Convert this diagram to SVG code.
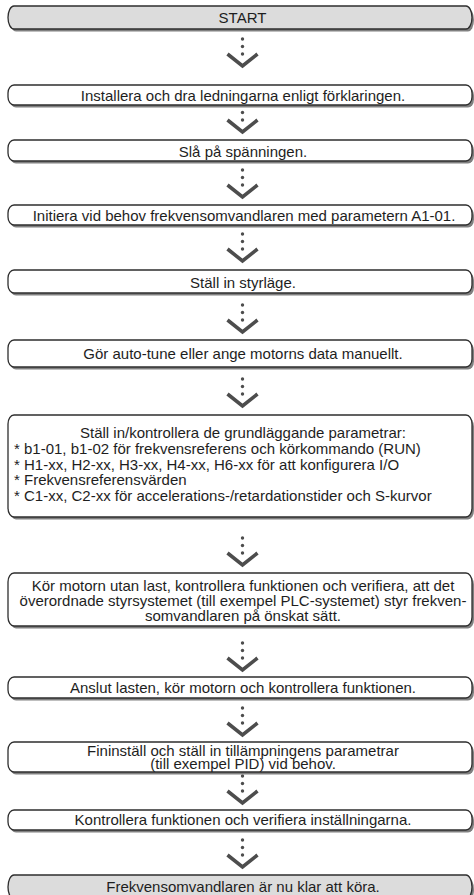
<svg xmlns="http://www.w3.org/2000/svg" width="474" height="895" viewBox="0 0 474 895">
<defs>
<style>
.bx{fill:#ffffff;stroke:#2e2e2e;stroke-width:1.3}
.gr{fill:#dcdcdc;stroke:#2e2e2e;stroke-width:1.3}
.sh{fill:#808080;stroke:none}
.t{font-family:"Liberation Sans",Arial,sans-serif;font-size:15px;fill:#1e1e1e}
.c{text-anchor:middle}
.v{fill:none;stroke:#4d4d4d;stroke-width:3.6;stroke-linejoin:miter;stroke-linecap:butt}
.d{fill:#4d4d4d}
</style>
<g id="chev">
<circle class="d" cx="0" cy="-28" r="1.7"/>
<circle class="d" cx="0" cy="-20.5" r="1.7"/>
<circle class="d" cx="0" cy="-13" r="1.7"/>
<polyline class="v" points="-15,-13 0,-1 15,-13"/>
</g>
</defs>
<rect width="474" height="895" fill="#ffffff"/>
<g id="connectors">
<use href="#chev" x="242.5" y="67"/>
<use href="#chev" x="242.5" y="133"/>
<use href="#chev" x="242.5" y="198"/>
<use href="#chev" x="242.5" y="262"/>
<use href="#chev" x="242.5" y="333"/>
<use href="#chev" x="242.5" y="407"/>
<use href="#chev" x="242.5" y="566"/>
<use href="#chev" x="242.5" y="671"/>
<use href="#chev" x="242.5" y="736"/>
<use href="#chev" x="242.5" y="804"/>
<use href="#chev" x="242.5" y="868"/>
</g>
<g id="start">
<rect class="sh" x="10" y="8.5" width="464" height="23" rx="6" ry="11.5"/>
<rect class="gr" x="8" y="6" width="464" height="23" rx="6" ry="11.5"/>
<text class="t c" x="242.5" y="22.5">START</text>
</g>
<g id="n1">
<rect class="sh" x="10" y="87.5" width="464" height="20" rx="6" ry="8"/>
<rect class="bx" x="8" y="85" width="464" height="20" rx="6" ry="8"/>
<text class="t c" x="243" y="101">Installera och dra ledningarna enligt förklaringen.</text>
</g>
<g id="n2">
<rect class="sh" x="10" y="142.5" width="464" height="21" rx="6" ry="8"/>
<rect class="bx" x="8" y="140" width="464" height="21" rx="6" ry="8"/>
<text class="t c" x="243" y="156.5">Slå på spänningen.</text>
</g>
<g id="n3">
<rect class="sh" x="10" y="207.5" width="464" height="20" rx="6" ry="8"/>
<rect class="bx" x="8" y="205" width="464" height="20" rx="6" ry="8"/>
<text class="t c" x="244" y="220.5">Initiera vid behov frekvensomvandlaren med parametern A1-01.</text>
</g>
<g id="n4">
<rect class="sh" x="10" y="272.5" width="464" height="23" rx="6" ry="8"/>
<rect class="bx" x="8" y="270" width="464" height="23" rx="6" ry="8"/>
<text class="t c" x="243" y="288">Ställ in styrläge.</text>
</g>
<g id="n5">
<rect class="sh" x="10" y="342.5" width="464" height="27" rx="6" ry="8"/>
<rect class="bx" x="8" y="340" width="464" height="27" rx="6" ry="8"/>
<text class="t c" x="243" y="359">Gör auto-tune eller ange motorns data manuellt.</text>
</g>
<g id="n6">
<rect class="sh" x="10" y="417.5" width="464" height="102" rx="6" ry="9"/>
<rect class="bx" x="8" y="415" width="464" height="102" rx="6" ry="9"/>
<text class="t c" x="243" y="438">Ställ in/kontrollera de grundläggande parametrar:</text>
<text class="t" x="14" y="454">* b1-01, b1-02 för frekvensreferens och körkommando (RUN)</text>
<text class="t" x="14" y="470">* H1-xx, H2-xx, H3-xx, H4-xx, H6-xx för att konfigurera I/O</text>
<text class="t" x="14" y="485">* Frekvensreferensvärden</text>
<text class="t" x="14" y="501">* C1-xx, C2-xx för accelerations-/retardationstider och S-kurvor</text>
</g>
<g id="n7">
<rect class="sh" x="10" y="575.5" width="464" height="53" rx="6" ry="9"/>
<rect class="bx" x="8" y="573" width="464" height="53" rx="6" ry="9"/>
<text class="t c" x="243" y="591">Kör motorn utan last, kontrollera funktionen och verifiera, att det</text>
<text class="t c" x="243" y="606">överordnade styrsystemet (till exempel PLC-systemet) styr frekven-</text>
<text class="t c" x="243" y="621">somvandlaren på önskat sätt.</text>
</g>
<g id="n8">
<rect class="sh" x="10" y="679.5" width="464" height="21" rx="6" ry="8"/>
<rect class="bx" x="8" y="677" width="464" height="21" rx="6" ry="8"/>
<text class="t c" x="243" y="693">Anslut lasten, kör motorn och kontrollera funktionen.</text>
</g>
<g id="n9">
<rect class="sh" x="10" y="744.5" width="464" height="30" rx="6" ry="8"/>
<rect class="bx" x="8" y="742" width="464" height="30" rx="6" ry="8"/>
<text class="t c" x="243" y="756">Fininställ och ställ in tillämpningens parametrar</text>
<text class="t c" x="243" y="769">(till exempel PID) vid behov.</text>
</g>
<g id="n10">
<rect class="sh" x="10" y="812.5" width="464" height="20" rx="6" ry="8"/>
<rect class="bx" x="8" y="810" width="464" height="20" rx="6" ry="8"/>
<text class="t c" x="243" y="825">Kontrollera funktionen och verifiera inställningarna.</text>
</g>
<g id="end">
<rect class="sh" x="10" y="877.5" width="464" height="24" rx="6" ry="12"/>
<rect class="gr" x="8" y="875" width="464" height="24" rx="6" ry="12"/>
<text class="t c" x="243" y="892">Frekvensomvandlaren är nu klar att köra.</text>
</g>
</svg>
